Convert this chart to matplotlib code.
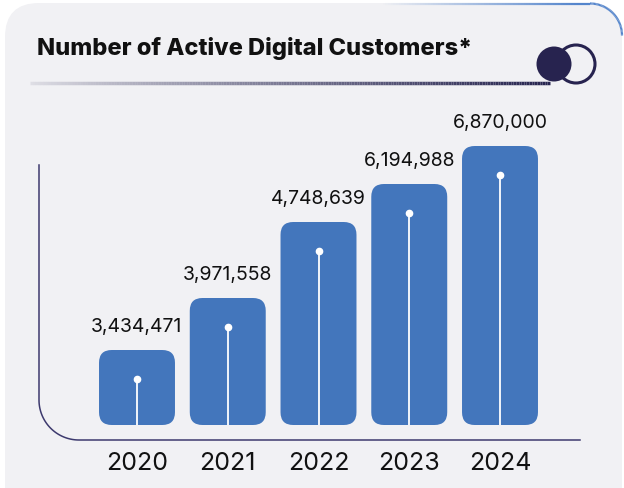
import numpy as np
import matplotlib.pyplot as plt
from matplotlib.patches import FancyBboxPatch, Circle
from matplotlib.collections import LineCollection

# data
years = ["2020", "2021", "2022", "2023", "2024"]
customers = [3434471, 3971558, 4748639, 6194988, 6870000]
# bar heights as drawn in the infographic (not proportional to values)
bar_heights = [75, 127, 203, 241, 279]

title = "Number of Active Digital Customers*"
bar_color = "#4376bc"
navy = "#27234f"
card_color = "#f1f1f4"
font = ["Inter", "DejaVu Sans"]

fig = plt.figure(figsize=(6.24, 4.88), dpi=100)
fig.patch.set_facecolor("white")

# background layer in pixel coords
bg = fig.add_axes([0, 0, 1, 1])
bg.set_xlim(0, 624)
bg.set_ylim(488, 0)
bg.axis("off")

card = FancyBboxPatch((5, 3), 617, 540, boxstyle="round,pad=0,rounding_size=34",
                      fc=card_color, ec="none")
bg.add_patch(card)

# blue top-right border
xs = np.concatenate([np.linspace(380, 590, 80), 590 + 32 * np.sin(np.linspace(0, np.pi / 2, 40))])
ys = np.concatenate([np.full(80, 3.5), 3.5 + 32 * (1 - np.cos(np.linspace(0, np.pi / 2, 40)))])
pts = np.column_stack([xs, ys]).reshape(-1, 1, 2)
segs = np.concatenate([pts[:-1], pts[1:]], axis=1)
alphas = np.clip(np.linspace(0, 1.6, len(segs)), 0, 1)
cols = [(0.33, 0.52, 0.80, a) for a in alphas]
bg.add_collection(LineCollection(segs, colors=cols, linewidths=1.6))

# title and gradient underline
bg.text(37, 48, title, fontsize=17, fontweight=800, family=font,
        color="#111111", va="center", ha="left")
ux = np.linspace(30, 550, 200)
upts = np.column_stack([ux, np.full_like(ux, 83)]).reshape(-1, 1, 2)
usegs = np.concatenate([upts[:-1], upts[1:]], axis=1)
ua = np.linspace(0.05, 1, len(usegs)) ** 0.8
ucols = [(0.15, 0.14, 0.31, a) for a in ua]
bg.add_collection(LineCollection(usegs, colors=ucols, linewidths=2.5))

# icon
bg.add_patch(Circle((576, 64), 19, fc="none", ec=navy, lw=2.2))
bg.add_patch(Circle((554, 64), 17.5, fc=navy, ec="none"))

# axis frame with rounded corner
r = 40
th = np.linspace(np.pi, np.pi / 2, 40)
fx = np.concatenate([[39, 39], 39 + r + r * np.cos(th), [580]])
fy = np.concatenate([[165, 440 - r], 440 - r + r * np.sin(th), [440]])
bg.plot(fx, fy, color="#3d3a6e", lw=1.1)

# chart axes (pixel-aligned)
L, R, B, T = 39, 580, 440, 100
ax = fig.add_axes([L / 624, (488 - B) / 488, (R - L) / 624, (B - T) / 488])
ax.patch.set_alpha(0)
ax.axis("off")
step = 90.75
ax.set_xlim((L - 137) / step, (R - 137) / step)
ax.set_ylim(-15, B - T - 15)

width = 0.837
for i, (h, v, yr) in enumerate(zip(bar_heights, customers, years)):
    bar = FancyBboxPatch((i - width / 2, 0), width, h,
                         boxstyle="round,pad=0,rounding_size=0.14",
                         mutation_aspect=step, fc=bar_color, ec="none")
    ax.add_patch(bar)
    ax.plot([i, i], [0, h - 29], color="white", lw=1.3, solid_capstyle="butt")
    ax.plot(i, h - 29, "o", color="white", ms=4.5)
    ax.text(i, h + 23, f"{v:,}", ha="center", va="center", fontsize=14,
            family=font, color="#111111")
    ax.text(i, -39, yr, ha="center", va="center", fontsize=18,
            family=font, color="#111111", clip_on=False)

fig.savefig("out.png", dpi=100)
